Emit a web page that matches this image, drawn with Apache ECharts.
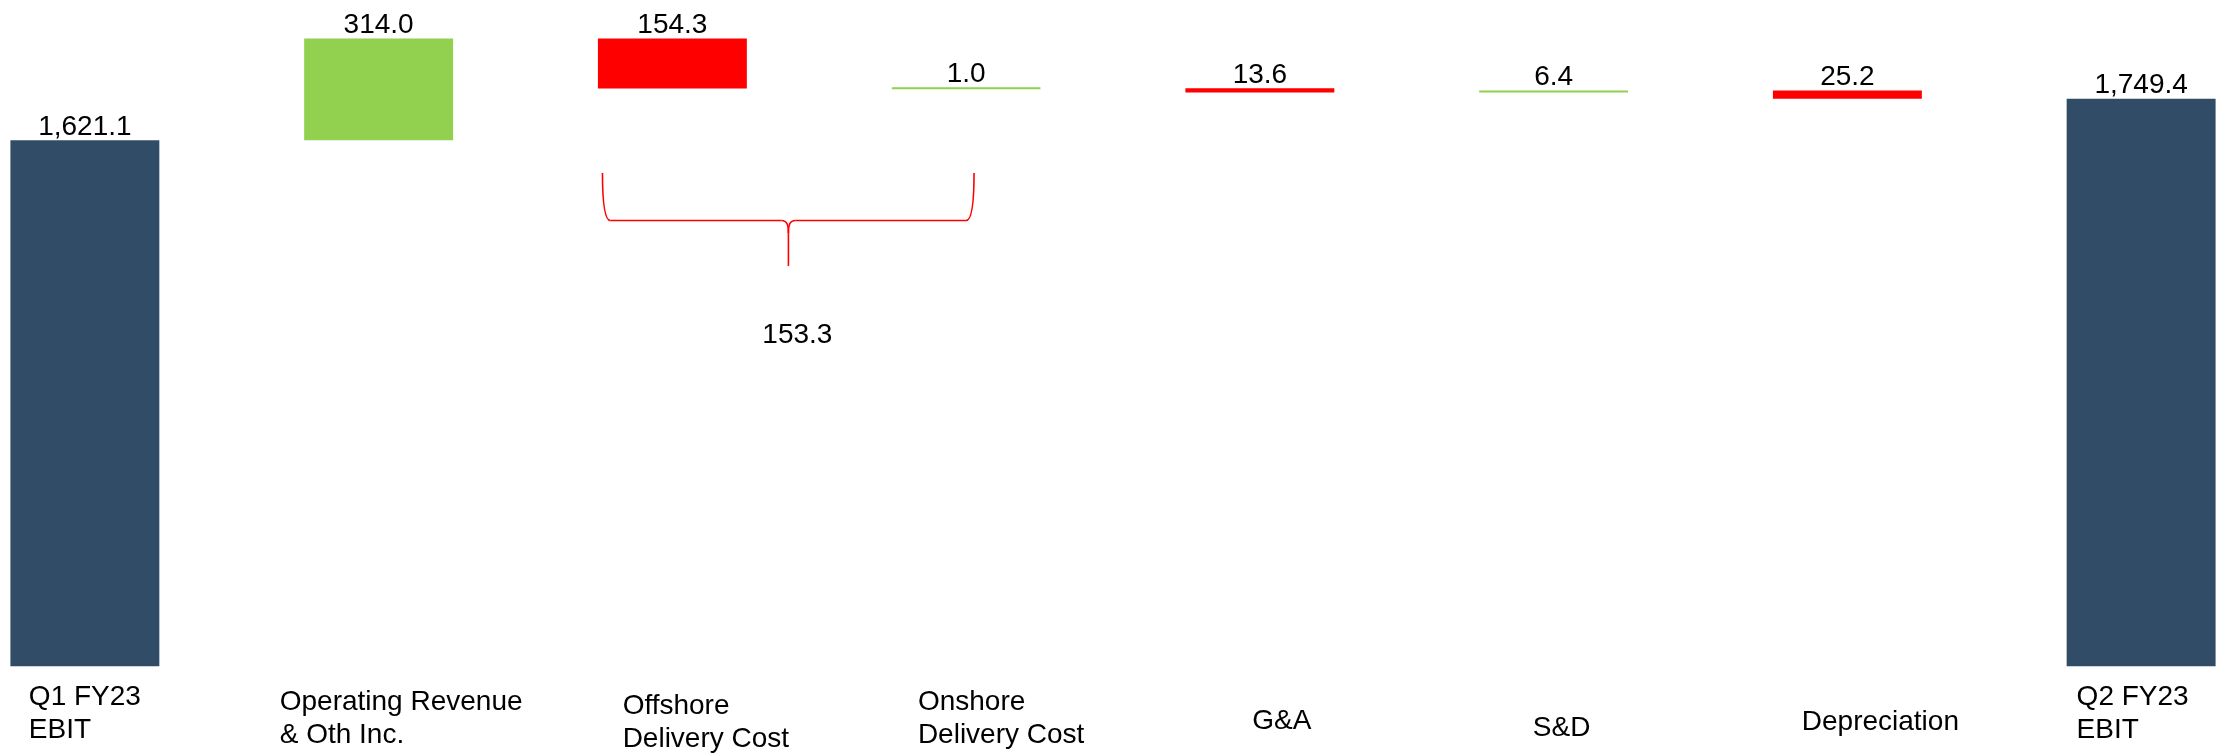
<!DOCTYPE html>
<html>
<head>
<meta charset="utf-8">
<script src="https://cdn.jsdelivr.net/npm/echarts@6/dist/echarts.min.js"></script>
<style>
html,body{margin:0;padding:0;background:#fff;overflow:hidden;width:2219px;height:753px;}
#chart{position:absolute;left:-62px;top:0;width:2350px;height:753px;}
</style>
</head>
<body>
<div id="chart"></div>
<script>
// ---- data ----
const categories = ['Q1 FY23\nEBIT', 'Operating Revenue\n& Oth Inc.', 'Offshore\nDelivery Cost', 'Onshore\nDelivery Cost', 'G&A', 'S&D', 'Depreciation', 'Q2 FY23\nEBIT'];
const openingEBIT = 1621.1;
const changes = [314.0, -154.3, 1.0, -13.6, 6.4, -25.2];
const closingEBIT = 1749.4;
const deliveryCostNet = 153.3;          // bracket total under Offshore + Onshore
const bracketCategories = [2, 3];

// ---- styling ----
const FONT = 'Liberation Sans, Arial, sans-serif';
const FS = 28;
const C_TOTAL = '#314C66', C_UP = '#92D050', C_DOWN = '#FF0000';

// build waterfall stack
const base = [], visible = [];
visible.push({ value: openingEBIT, itemStyle: { color: C_TOTAL, borderColor: C_TOTAL } });
base.push(0);
let running = openingEBIT;
changes.forEach(ch => {
  if (ch >= 0) { base.push(running); running += ch; }
  else { running += ch; base.push(running); }
  const col = ch >= 0 ? C_UP : C_DOWN;
  visible.push({ value: Math.abs(ch), itemStyle: { color: col, borderColor: col } });
});
base.push(0);
visible.push({ value: closingEBIT, itemStyle: { color: C_TOTAL, borderColor: C_TOTAL } });

const bracketAnchor = openingEBIT + changes[0] + changes[1];

const fmt = v => Number(v).toLocaleString('en-US', { minimumFractionDigits: 1, maximumFractionDigits: 1 });

// per-category label text-box tweaks as in the source slide: [drop, padLeft, padRight]
const labBox = [[0,0,0],[5,45,0],[9,67,0],[5,70,0],[23.5,44,0],[30.5,16,0],[24.5,66,0],[0,0,17]];
const rich = {};
labBox.forEach((p, i) => {
  rich['s' + i] = { fontSize: 1, lineHeight: Math.max(p[0], 1), color: 'rgba(0,0,0,0)' };
  rich['t' + i] = { fontFamily: FONT, fontSize: FS, lineHeight: 32.5, color: '#000', align: 'left', padding: [0, p[2], 0, p[1]] };
});

const chart = echarts.init(document.getElementById('chart'));
chart.setOption({
  animation: false,
  backgroundColor: '#fff',
  grid: { left: 0, right: 0, top: 17.4, bottom: 86 },
  xAxis: {
    type: 'category',
    data: categories,
    axisLine: { show: false },
    axisTick: { show: false },
    axisLabel: {
      interval: 0,
      margin: 15,
      align: 'center',
      verticalAlign: 'top',
      formatter: (val, idx) => {
        const lines = val.split('\n').map(l => '{t' + idx + '|' + l + '}');
        if (labBox[idx][0] > 0) lines.unshift('{s' + idx + '| }');
        return lines.join('\n');
      },
      rich: rich
    }
  },
  yAxis: { type: 'value', min: 0, max: 2000, show: false, splitLine: { show: false } },
  series: [
    {
      type: 'bar', stack: 'wf', data: base, barWidth: '50.7%',
      itemStyle: { color: 'rgba(0,0,0,0)' }, emphasis: { disabled: true }, silent: true
    },
    {
      type: 'bar', stack: 'wf', data: visible, barWidth: '50.7%',
      itemStyle: { borderWidth: 2 },
      label: {
        show: true, position: 'top', distance: -1,
        fontFamily: FONT, fontSize: FS, color: '#000',
        formatter: p => fmt(p.value)
      }
    },
    {
      type: 'custom',
      data: [[bracketCategories[0], bracketAnchor]],
      z: 10,
      renderItem: (params, api) => {
        const p = api.coord([api.value(0), api.value(1)]);
        const band = api.size([1, 0])[0];
        const L = p[0] - 0.238 * band;
        const R = p[0] + 1.027 * band;
        const M = p[0] + 0.395 * band;
        const T = p[1] + 84.4, H = p[1] + 132, TIP = p[1] + 177.5;
        const st = { stroke: C_DOWN, lineWidth: 1.6, fill: null };
        return {
          type: 'group',
          children: [
            { type: 'bezierCurve', shape: { x1: L, y1: T, cpx1: L, cpy1: T + 25, cpx2: L + 1.5, cpy2: H, x2: L + 8, y2: H }, style: st },
            { type: 'line', shape: { x1: L + 8, y1: H, x2: M - 7, y2: H }, style: st },
            { type: 'bezierCurve', shape: { x1: M - 7, y1: H, cpx1: M - 1.5, cpy1: H, cpx2: M, cpy2: H + 4, x2: M, y2: H + 13 }, style: st },
            { type: 'bezierCurve', shape: { x1: M + 7, y1: H, cpx1: M + 1.5, cpy1: H, cpx2: M, cpy2: H + 4, x2: M, y2: H + 13 }, style: st },
            { type: 'line', shape: { x1: M, y1: H + 13, x2: M, y2: TIP }, style: st },
            { type: 'line', shape: { x1: M + 7, y1: H, x2: R - 8, y2: H }, style: st },
            { type: 'bezierCurve', shape: { x1: R - 8, y1: H, cpx1: R - 1.5, cpy1: H, cpx2: R, cpy2: T + 25, x2: R, y2: T }, style: st },
            { type: 'text', style: { text: fmt(deliveryCostNet), x: M + 9, y: p[1] + 247, align: 'center', verticalAlign: 'middle', fontFamily: FONT, fontSize: FS, fill: '#000' } }
          ]
        };
      }
    }
  ]
});
</script>
</body>
</html>
